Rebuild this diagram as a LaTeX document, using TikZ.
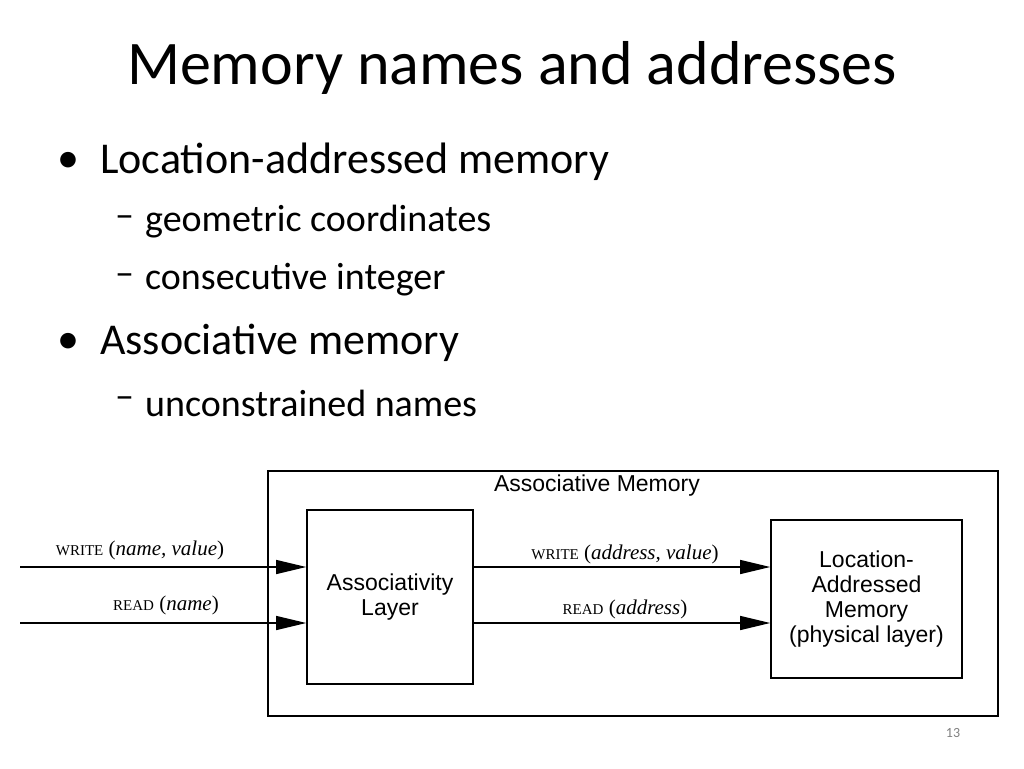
\documentclass[tikz,border=0pt]{standalone}
\usepackage{fontspec}
\setmainfont{Carlito}
\newfontfamily\dsans{Liberation Sans}
\newfontfamily\dserif{Liberation Serif}
\usetikzlibrary{arrows.meta}
\newcommand{\fsc}[1]{{\fontsize{15}{17}\selectfont #1}}
\begin{document}
\begin{tikzpicture}[x=1pt,y=-1pt,
 box/.style={draw,line width=1.6pt},
 arr/.style={line width=1.3pt,-{Triangle[length=30pt,width=14pt]}},
 dl/.style={font=\dserif\fontsize{21}{23}\selectfont},
 bt/.style={anchor=west,inner sep=0pt,font=\fontsize{44}{48}\selectfont},
 st/.style={anchor=west,inner sep=0pt,font=\fontsize{38}{42}\selectfont},
 dt/.style={font=\dsans\fontsize{23}{25}\selectfont}]
\useasboundingbox (0,0) rectangle (1024,768);
\node (title) at (512,68) {\fontsize{62}{68}\selectfont Memory names and addresses};
\node[bt] (k1) at (57,162) {\textbullet};
\node[bt] (b1) at (100,162) {Location-addressed memory};
\node[st] (d1) at (115,222) {–};
\node[st] (s1) at (145,222) {geometric coordinates};
\node[st] (d2) at (115,280) {–};
\node[st] (s2) at (145,280) {consecutive integer};
\node[bt] (k2) at (57,343) {\textbullet};
\node[bt] (b2) at (100,343) {Associative memory};
\node[st] (d3) at (115,403) {–};
\node[st] (s3) at (145,403) {unconstrained names};
\draw[box] (268,471) rectangle (998,716);
\node[dt] (am) at (597,486) {Associative Memory};
\node[box,dt,minimum width=166pt,minimum height=174pt,align=center] (al) at (390,597) {Associativity\\Layer};
\node[box,dt,minimum width=191pt,minimum height=158pt,align=center] (lm) at (866.5,599) {Location-\\Addressed\\Memory\\(physical layer)};
\coordinate (w0) at (20,567);
\coordinate (r0) at (20,623);
\draw[arr] (w0) -- (w0 -| al.west);
\draw[arr] (r0) -- (r0 -| al.west);
\draw[arr] (w0 -| al.east) -- (w0 -| lm.west);
\draw[arr] (r0 -| al.east) -- (r0 -| lm.west);
\node[dl] (lw) at (140,550) {\fsc{WRITE} (\textit{name, value})};
\node[dl] (lr) at (166,605) {\fsc{READ} (\textit{name})};
\node[dl] (rw) at (625,554) {\fsc{WRITE} (\textit{address, value})};
\node[dl] (rr) at (625,609) {\fsc{READ} (\textit{address})};
\node[text=gray,font=\fontsize{14}{16}\selectfont] (pg) at (953,733) {13};
\end{tikzpicture}
\end{document}
